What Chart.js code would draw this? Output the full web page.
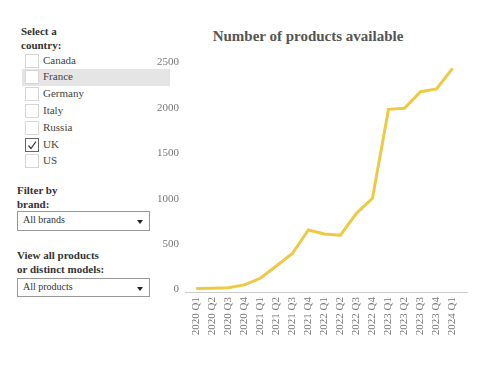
<!DOCTYPE html>
<html>
<head>
<meta charset="utf-8">
<script src="https://cdn.jsdelivr.net/npm/chart.js@4"></script>
<style>
  html, body { margin:0; padding:0; background:#fff; }
  body { width:492px; height:377px; position:relative; overflow:hidden; font-family:"Liberation Serif", "Times New Roman", serif; }
  .hdr { position:absolute; font-weight:bold; font-size:11px; color:#333; line-height:14px; }
  .row { position:absolute; left:22px; width:148px; height:17px; }
  .row.hl { background:#e5e5e5; }
  .box { position:absolute; left:3px; top:1px; width:12px; height:12px; border:1px solid #d6d6d6; background:#fff; }
  .box.on { border-color:#666; }
  .lbl { position:absolute; left:21px; top:0; font-size:11px; line-height:15px; color:#444; }
  .sel { position:absolute; left:17px; width:131px; border:1px solid #999; background:#fff; font-size:10px; color:#333; }
  .sel span { position:absolute; left:5px; top:1px; line-height:14px; }
  .arr { position:absolute; right:6px; width:0; height:0; border-left:3px solid transparent; border-right:3px solid transparent; border-top:4px solid #222; }
  #title { position:absolute; left:170px; width:276px; top:28px; text-align:center; font-weight:bold; font-size:15px; color:#555; }
  #wrap { position:absolute; left:0; top:0; width:492px; height:377px; pointer-events:none; }
</style>
</head>
<body>
<div class="hdr" style="left:21px;top:24px;">Select a<br>country:</div>
<div id="countries"></div>
<div class="hdr" style="left:17px;top:183px;">Filter by<br>brand:</div>
<div class="sel" style="top:211px;height:18px;"><span>All brands</span><div class="arr" style="top:8px;"></div></div>
<div class="hdr" style="left:17px;top:248px;">View all products<br>or distinct models:</div>
<div class="sel" style="top:278px;height:17px;"><span>All products</span><div class="arr" style="top:8px;"></div></div>
<div id="title">Number of products available</div>
<div id="wrap"><canvas id="c" width="492" height="377"></canvas></div>
<script>
const countries = ["Canada","France","Germany","Italy","Russia","UK","US"];
const checked = ["UK"];
const highlighted = "France";

const categories = ["2020 Q1","2020 Q2","2020 Q3","2020 Q4","2021 Q1","2021 Q2","2021 Q3","2021 Q4","2022 Q1","2022 Q2","2022 Q3","2022 Q4","2023 Q1","2023 Q2","2023 Q3","2023 Q4","2024 Q1"];
const products = [10, 14, 18, 50, 123, 259, 396, 655, 611, 597, 839, 1004, 1984, 1995, 2178, 2208, 2435];
const yTicks = [0, 500, 1000, 1500, 2000, 2500];

const cdiv = document.getElementById('countries');
countries.forEach((name, i) => {
  const r = document.createElement('div');
  r.className = 'row' + (name === highlighted ? ' hl' : '');
  r.style.top = (53 + i * 16.8 - 0.5) + 'px';
  const on = checked.includes(name);
  r.innerHTML = '<div class="box' + (on ? ' on' : '') + '">' +
    (on ? '<svg width="12" height="12" style="position:absolute;left:0;top:0"><path d="M2.5 6.5 L5 9.5 L10 2.5" fill="none" stroke="#333" stroke-width="1.2"/></svg>' : '') +
    '</div><div class="lbl">' + name + '</div>';
  cdiv.appendChild(r);
});

new Chart(document.getElementById('c'), {
  type: 'line',
  data: {
    datasets: [{
      data: products.map((v, i) => ({x: i, y: v})),
      borderColor: '#EEC943',
      borderWidth: 3,
      pointRadius: 0,
      tension: 0,
      fill: false
    }]
  },
  options: {
    responsive: false,
    animation: false,
    layout: { padding: { top: 53.4, right: 25, left: 0, bottom: 0 } },
    plugins: { legend: { display: false }, tooltip: { enabled: false }, title: { display: false } },
    scales: {
      x: {
        type: 'linear',
        min: -0.7, max: 16.9,
        afterBuildTicks: s => { s.ticks = categories.map((c, i) => ({value: i})); },
        afterFit: s => { s.height = 85; },
        grid: { display: false, drawTicks: false },
        border: { display: true, color: '#cccccc', width: 1 },
        ticks: {
          autoSkip: false, minRotation: 90, maxRotation: 90, padding: 5,
          color: '#777', font: { family: 'Liberation Serif', size: 11 },
          callback: v => categories[v]
        }
      },
      y: {
        min: -28, max: 2600,
        afterBuildTicks: s => { s.ticks = yTicks.map(v => ({value: v})); },
        afterFit: s => { s.width = 185; },
        grid: { display: false, drawTicks: false },
        border: { display: false },
        ticks: { padding: 6, color: '#777', font: { family: 'Liberation Serif', size: 11 },
          callback: v => String(v) }
      }
    }
  }
});
</script>
</body>
</html>
